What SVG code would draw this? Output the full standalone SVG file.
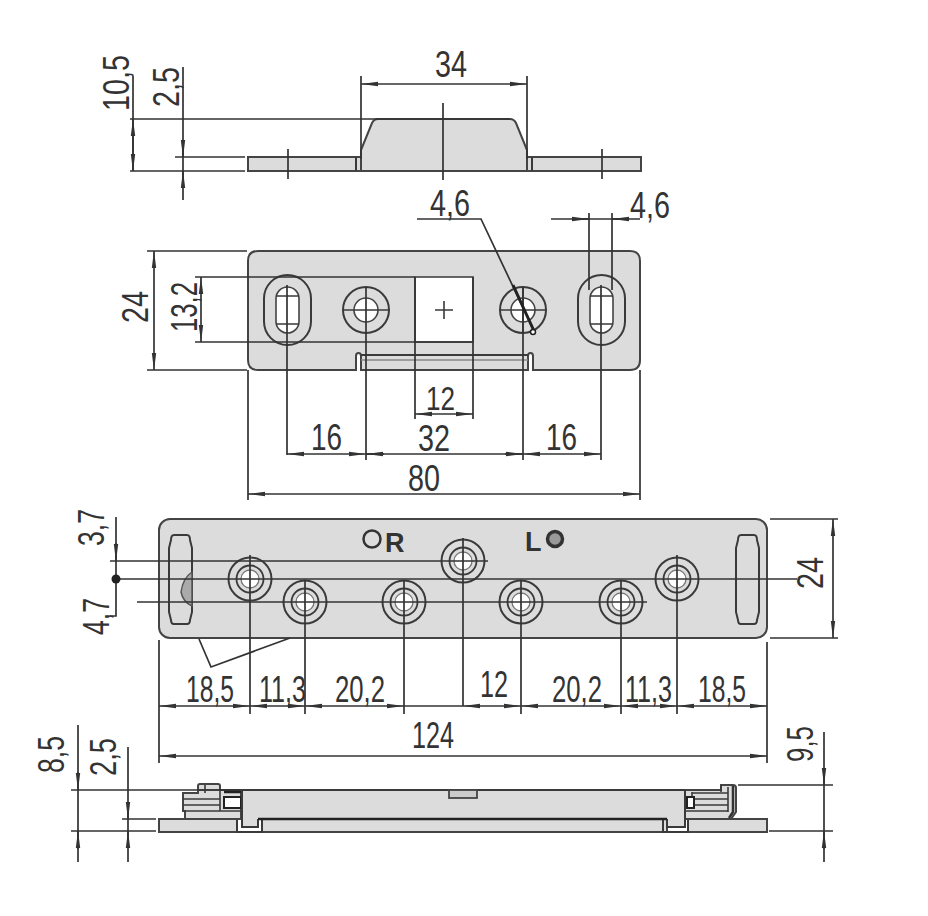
<svg xmlns="http://www.w3.org/2000/svg" width="928" height="916" viewBox="0 0 928 916">
<style>
.p{fill:#dcdcdc;stroke:#444;stroke-width:2}
.w{fill:#fff;stroke:#444;stroke-width:1.6}
.n{fill:none;stroke:#3a3a3a;stroke-width:2}
.l{fill:none;stroke:#3a3a3a;stroke-width:1.6}
.d{fill:none;stroke:#333;stroke-width:1.7;marker-start:url(#a);marker-end:url(#a)}
.e{fill:none;stroke:#333;stroke-width:1.7;marker-end:url(#a)}
.o{fill:none;stroke:#333;stroke-width:1.7}
text{font-family:"Liberation Sans",Arial,sans-serif;font-size:36px;fill:#333}
.b{font-weight:bold;font-size:27px;fill:#333}
</style>
<defs>
<marker id="a" markerUnits="userSpaceOnUse" markerWidth="18" markerHeight="6" refX="17" refY="3" orient="auto-start-reverse"><path d="M17 3L0 .8V5.200Z" fill="#333"/></marker>
<g id="hole"><circle r="21.500" class="n"/><circle r="13.500" class="n" style="stroke-width:1.800"/><circle r="9" fill="#fff" stroke="#777" stroke-width="1.300"/></g>
</defs>
<g id="view-top">
<path class="p" d="M248 157H361V171H248Z"/>
<path class="p" d="M527 157H641V171H527Z"/>
<path class="p" d="M361 171V150L372 123Q374 119 378 119H510Q514 119 516 123L527 150V171Z"/>
<path class="n" d="M356 157V171M532 157V171"/>
</g>
<g id="view-plan">
<path class="p" d="M258 251H630Q640 251 640 261V360Q640 370 630 370H533V356Q533 353 530.500 353Q528 353 528 356V370H361V356Q361 353 358.500 353Q356 353 356 356V370H258Q248 370 248 360V261Q248 251 258 251Z"/>
<rect x="415" y="277" width="58" height="65" fill="#fff" stroke="#444" stroke-width="1.600"/>
<path class="n" d="M361 355H528"/>
<path class="l" d="M361 360H528" style="stroke:#888"/>
<rect x="264" y="275" width="47" height="70" rx="23.500" class="n"/>
<rect x="276" y="287" width="23" height="46" rx="11.500" class="w"/>
<rect x="578" y="275" width="47" height="70" rx="23.500" class="n"/>
<rect x="590" y="287" width="23" height="46" rx="11.500" class="w"/>
<circle cx="366" cy="310" r="23" class="n"/><circle cx="366" cy="310" r="12" class="w"/>
<circle cx="523" cy="310" r="23" class="n"/><circle cx="523" cy="310" r="12" class="w"/>
<path class="l" d="M435 310H453M444 301V319M343 310H389M500 310H546M523 287V333M276 296H299M276 324H299M590 296H613M590 324H613"/>
</g>
<g id="view-front">
<rect x="159" y="519" width="608" height="119" rx="11" class="p"/>
<path class="n" d="M174 535H187Q190 535 190 540L192 548V612L190 620Q190 624 187 624H174Q171 624 171 620L169 612V548L171 540Q171 535 174 535Z"/>
<path class="n" d="M741 535H754Q757 535 757 540L759 548V612L757 620Q757 624 754 624H741Q738 624 738 620L736 612V548L738 540Q738 535 741 535Z"/>
<path d="M192 572Q183 578 181 592Q183 602 192 606Z" fill="#aaa" stroke="#555" stroke-width="1.500"/>
<use href="#hole" x="250" y="579"/><use href="#hole" x="305" y="602"/><use href="#hole" x="404" y="602"/>
<use href="#hole" x="463" y="561"/><use href="#hole" x="521" y="602"/><use href="#hole" x="621" y="602"/><use href="#hole" x="677" y="579"/>
<circle cx="372" cy="539" r="8.500" fill="none" stroke="#333" stroke-width="2.500"/>
<text class="b" x="385" y="552">R</text>
<text class="b" x="525" y="551">L</text>
<circle cx="555" cy="539" r="7.500" fill="#999" stroke="#333" stroke-width="3.500"/>
</g>
<g id="view-side">
<rect x="159" y="819" width="78" height="13" class="p"/>
<rect x="262" y="819" width="405" height="13" class="p"/>
<rect x="688" y="819" width="79" height="13" class="p"/>
<path class="n" d="M237 819V832H262V819M663 819V832H688V819"/>
<path class="p" d="M185 819V811H183V793H198V786Q198 784 200 784H218Q220 784 220 786V790H241V819Z"/>
<path class="l" d="M183 799H220M183 805H220M183 811H241M198 790H222M205 785V793M220 790V811"/>
<rect x="224" y="797" width="17" height="11" fill="#fff" stroke="#222" stroke-width="2"/>
<path d="M224 792H241" stroke="#222" stroke-width="2.500"/>
<path class="p" d="M685 819V790H721V785H733Q736 785 736 788V812L731 819Z"/>
<path class="l" d="M685 811H728M692 793H728M692 799H728M692 805H728M728 787V812M721 785V792M692 792V808"/>
<path d="M733 786V812L729 818" fill="none" stroke="#333" stroke-width="2.500"/>
<rect x="687" y="797" width="7" height="11" fill="#fff" stroke="#222" stroke-width="2"/>
<path d="M242 790H685V827H667V819H258V827H242Z" fill="#dcdcdc"/>
<path class="n" d="M241 790H685M242 790V827H258V819M667 819V827H685V790"/>
<path d="M258 819H667" stroke="#222" stroke-width="2.500"/>
<rect x="449" y="790" width="28" height="8" fill="#ccc" stroke="#444" stroke-width="1.800"/>
</g>
<g id="connectors">
<path class="o" d="M130 119H510M130 171H245M175 157H245"/>
<path class="o" d="M133 76V171M183 67V200"/>
<path class="o" d="M361 76V159M527 76V159M443 103V180M288 149V179M602 149V179"/>
<path class="d" d="M361 84H527"/>
<path class="d" d="M133 119V171"/>
<path class="e" d="M183 140V157"/><path class="e" d="M183 188V171"/>
<path class="o" d="M147 251H247M147 370H247M195 277H415M195 342H473"/>
<path class="d" d="M154 251V370"/>
<path class="d" d="M201 277V342"/>
<path class="o" d="M287 285V455M366 287V460M523 287V460M601 285V460M415 277V419M473 277V419M248 370V500M640 370V500"/>
<path class="d" d="M415 414H473"/>
<path class="d" d="M287 454H366"/>
<path class="o" d="M366 454H523"/>
<path class="e" d="M384 454H366"/>
<path class="e" d="M505 454H523"/>
<path class="d" d="M523 454H601"/>
<path class="d" d="M248 494H640"/>
<path class="o" d="M417 219H481L535 333"/>
<path d="M513 285L534 331" stroke="#222" stroke-width="3" fill="none"/>
<circle cx="533" cy="332" r="2.500" fill="#fff" stroke="#222" stroke-width="1.500"/>
<path class="o" d="M589 213V290M612 213V290M551 219H640"/>
<path class="e" d="M572 219H589"/>
<path class="e" d="M629 219H612"/>
<path class="o" d="M110 561H488M115 579H797M137 602H647M116 517V616H110"/>
<path class="e" d="M116 543V561"/>
<circle cx="116" cy="579" r="4.500" fill="#222"/>
<path class="o" d="M250 555V714M305 580V714M404 580V714M463 538V706M521 580V714M621 580V714M677 555V714M159 640V763M767 642V763M770 519H838M770 638H838"/>
<path class="o" d="M199 639L211 667L290 638"/>
<path class="d" d="M833 519V638"/>
<path class="d" d="M159 706H250"/><path class="d" d="M250 706H305"/><path class="d" d="M305 706H404"/>
<path class="o" d="M404 706H463"/>
<path class="d" d="M463 706H521"/><path class="d" d="M521 706H621"/><path class="d" d="M621 706H677"/><path class="d" d="M677 706H767"/>
<path class="d" d="M159 756H767"/>
<path class="o" d="M71 790H240M71 831H156M122 819H156M122 831H156M738 785H833M769 831H833"/>
<path class="o" d="M78 725V862M128 747V862M824 732V862"/>
<path class="e" d="M78 772V790"/>
<path class="e" d="M78 849V831"/>
<path class="e" d="M128 802V819"/>
<path class="e" d="M128 848V831"/>
<path class="e" d="M824 768V785"/>
<path class="e" d="M824 849V831"/>
</g>
<g id="labels">
<text x="435" y="77" textLength="32" lengthAdjust="spacingAndGlyphs">34</text>
<text transform="translate(129 111) rotate(-90)" textLength="56" lengthAdjust="spacingAndGlyphs">10,5</text>
<text transform="translate(179 107) rotate(-90)" textLength="40" lengthAdjust="spacingAndGlyphs">2,5</text>
<text x="430" y="216" textLength="40" lengthAdjust="spacingAndGlyphs">4,6</text>
<text x="630" y="218" textLength="40" lengthAdjust="spacingAndGlyphs">4,6</text>
<text transform="translate(148 323) rotate(-90)" textLength="32" lengthAdjust="spacingAndGlyphs">24</text>
<text transform="translate(197 332) rotate(-90)" textLength="50" lengthAdjust="spacingAndGlyphs">13,2</text>
<text x="311" y="450" textLength="31" lengthAdjust="spacingAndGlyphs">16</text>
<text x="426" y="410" textLength="29" lengthAdjust="spacingAndGlyphs" style="font-size:33px">12</text>
<text x="418" y="451" textLength="32" lengthAdjust="spacingAndGlyphs">32</text>
<text x="546" y="450" textLength="31" lengthAdjust="spacingAndGlyphs">16</text>
<text x="408" y="491" textLength="32" lengthAdjust="spacingAndGlyphs">80</text>
<text transform="translate(104 546) rotate(-90)" textLength="37" lengthAdjust="spacingAndGlyphs">3,7</text>
<text transform="translate(109 635) rotate(-90)" textLength="37" lengthAdjust="spacingAndGlyphs">4,7</text>
<text x="186" y="702" textLength="48" lengthAdjust="spacingAndGlyphs">18,5</text>
<text x="259" y="702" textLength="47" lengthAdjust="spacingAndGlyphs">11,3</text>
<text x="335" y="702" textLength="50" lengthAdjust="spacingAndGlyphs">20,2</text>
<text x="480" y="697" textLength="28" lengthAdjust="spacingAndGlyphs">12</text>
<text x="552" y="702" textLength="50" lengthAdjust="spacingAndGlyphs">20,2</text>
<text x="625" y="702" textLength="47" lengthAdjust="spacingAndGlyphs">11,3</text>
<text x="698" y="702" textLength="48" lengthAdjust="spacingAndGlyphs">18,5</text>
<text x="412" y="748" textLength="42" lengthAdjust="spacingAndGlyphs">124</text>
<text transform="translate(823 589) rotate(-90)" textLength="32" lengthAdjust="spacingAndGlyphs">24</text>
<text transform="translate(64 773) rotate(-90)" textLength="37" lengthAdjust="spacingAndGlyphs">8,5</text>
<text transform="translate(116 776) rotate(-90)" textLength="38" lengthAdjust="spacingAndGlyphs">2,5</text>
<text transform="translate(813 762) rotate(-90)" textLength="36" lengthAdjust="spacingAndGlyphs">9,5</text>
</g>
</svg>
